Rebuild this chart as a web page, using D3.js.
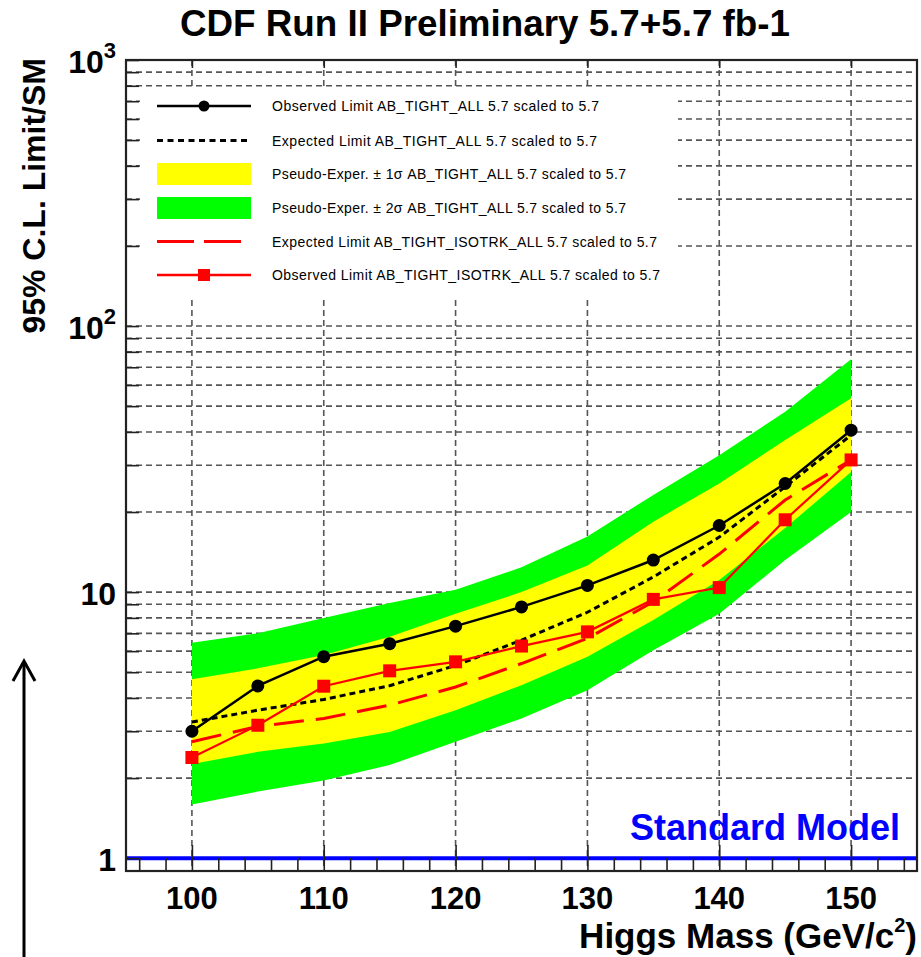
<!DOCTYPE html>
<html lang="en">
<head>
<meta charset="UTF-8">
<title>CDF Run II Preliminary 5.7+5.7 fb-1</title>
<script src="https://cdnjs.cloudflare.com/ajax/libs/d3/7.8.5/d3.min.js"></script>
<style>
  body { margin: 0; background: #fff; }
  text { font-family: "Liberation Sans", Arial, Helvetica, sans-serif; }
</style>
</head>
<body>
<div id="chart"></div>
<script>
// higgs mass points (GeV/c^2)
const mass = [100, 105, 110, 115, 120, 125, 130, 135, 140, 145, 150];
// AB_TIGHT_ALL
const obsAll = [3.0, 4.44, 5.72, 6.40, 7.45, 8.8, 10.6, 13.2, 17.8, 25.6, 40.6];
const expAll = [3.25, 3.6, 3.95, 4.45, 5.3, 6.6, 8.4, 11.4, 16.1, 24.9, 38.9];
const sig1Lo = [2.26, 2.51, 2.70, 2.98, 3.60, 4.47, 5.71, 7.85, 11.1, 17.4, 28.3];
const sig1Hi = [4.70, 5.17, 5.80, 6.8, 8.3, 10.0, 12.6, 18.4, 25.6, 37.3, 53.5];
const sig2Lo = [1.59, 1.78, 1.96, 2.24, 2.74, 3.35, 4.28, 6.05, 8.3, 13.2, 20.0];
const sig2Hi = [6.45, 7.0, 8.0, 9.1, 10.2, 12.4, 16.2, 23.2, 32.7, 47.6, 75.0];
// AB_TIGHT_ISOTRK_ALL
const expIso = [2.74, 3.13, 3.35, 3.76, 4.40, 5.39, 6.70, 9.2, 13.9, 22.2, 31.4];
const obsIso = [2.39, 3.16, 4.43, 5.06, 5.47, 6.27, 7.09, 9.39, 10.4, 18.7, 31.4];

const xMajor = [100, 110, 120, 130, 140, 150];
const xMinor = d3.range(96, 155, 2);
const yMajor = [1, 10, 100, 1000];
const yMinor = [2, 3, 4, 5, 6, 7, 8, 9, 20, 30, 40, 50, 60, 70, 80, 90, 200, 300, 400, 500, 600, 700, 800, 900];

const legendLabels = [
  "Observed Limit AB_TIGHT_ALL 5.7 scaled to 5.7",
  "Expected Limit AB_TIGHT_ALL 5.7 scaled to 5.7",
  "Pseudo-Exper. \u00b1 1\u03c3 AB_TIGHT_ALL 5.7 scaled to 5.7",
  "Pseudo-Exper. \u00b1 2\u03c3 AB_TIGHT_ALL 5.7 scaled to 5.7",
  "Expected Limit AB_TIGHT_ISOTRK_ALL 5.7 scaled to 5.7",
  "Observed Limit AB_TIGHT_ISOTRK_ALL 5.7 scaled to 5.7"
];

const W = 921, H = 957;
const L = 126, R = 917, T = 60, B = 871;

const svg = d3.select("#chart").append("svg")
  .attr("width", W).attr("height", H);

const x = d3.scaleLinear().domain([95, 155]).range([L, R]);
const y = d3.scaleLog().domain([0.895, 1000]).range([B, T]);

const rows = mass.map((m, i) => ({
  m: m, obsAll: obsAll[i], expAll: expAll[i],
  s1lo: sig1Lo[i], s1hi: sig1Hi[i], s2lo: sig2Lo[i], s2hi: sig2Hi[i],
  expIso: expIso[i], obsIso: obsIso[i]
}));

// grid
const grid = svg.append("g")
  .attr("stroke", "#555").attr("stroke-width", 1.6).attr("stroke-dasharray", "6,4");
grid.selectAll("line.h").data(yMinor.concat([10, 100])).enter().append("line")
  .attr("x1", L).attr("x2", R)
  .attr("y1", d => y(d)).attr("y2", d => y(d));
grid.selectAll("line.v").data(xMajor).enter().append("line")
  .attr("x1", d => x(d)).attr("x2", d => x(d))
  .attr("y1", T).attr("y2", B);

// legend box hides the grid behind it
svg.append("rect").attr("x", 140).attr("y", 89).attr("width", 538).attr("height", 211)
  .attr("fill", "#fff");

// bands
const band = (lo, hi) => d3.area().x(d => x(d.m)).y0(d => y(d[lo])).y1(d => y(d[hi]));
svg.append("path").datum(rows).attr("d", band("s2lo", "s2hi")).attr("fill", "#00ff00");
svg.append("path").datum(rows).attr("d", band("s1lo", "s1hi")).attr("fill", "#ffff00");

const line = key => d3.line().x(d => x(d.m)).y(d => y(d[key]));

svg.append("path").datum(rows).attr("d", line("expIso"))
  .attr("fill", "none").attr("stroke", "#ff0000").attr("stroke-width", 3)
  .attr("stroke-dasharray", "30,12");
svg.append("path").datum(rows).attr("d", line("expAll"))
  .attr("fill", "none").attr("stroke", "#000").attr("stroke-width", 3)
  .attr("stroke-dasharray", "6,4");
svg.append("path").datum(rows).attr("d", line("obsAll"))
  .attr("fill", "none").attr("stroke", "#000").attr("stroke-width", 2.5);
svg.selectAll("circle.obs").data(rows).enter().append("circle")
  .attr("cx", d => x(d.m)).attr("cy", d => y(d.obsAll)).attr("r", 6.5).attr("fill", "#000");
svg.append("path").datum(rows).attr("d", line("obsIso"))
  .attr("fill", "none").attr("stroke", "#ff0000").attr("stroke-width", 2.2);
svg.selectAll("rect.iso").data(rows).enter().append("rect")
  .attr("x", d => x(d.m) - 6.5).attr("y", d => y(d.obsIso) - 6.5)
  .attr("width", 13).attr("height", 13).attr("fill", "#ff0000");

// standard model line
svg.append("line").attr("x1", L).attr("x2", R).attr("y1", y(1)).attr("y2", y(1))
  .attr("stroke", "#0000ff").attr("stroke-width", 4);
svg.append("text").attr("x", 900).attr("y", 840).attr("text-anchor", "end")
  .attr("font-size", 36).attr("font-weight", "bold").attr("fill", "#0000ff")
  .text("Standard Model");

// axes, ticks point inward
const xAx = svg.append("g").attr("transform", `translate(0,${B})`)
  .call(d3.axisBottom(x).tickValues(xMajor).tickSize(-26).tickFormat(""));
const xAxMin = svg.append("g").attr("transform", `translate(0,${B})`)
  .call(d3.axisBottom(x).tickValues(xMinor.filter(v => xMajor.indexOf(v) < 0)).tickSize(-13).tickFormat(""));
const xTop = svg.append("g").attr("transform", `translate(0,${T})`)
  .call(d3.axisTop(x).tickValues(xMajor).tickSize(-8).tickFormat(""));
const yAx = svg.append("g").attr("transform", `translate(${L},0)`)
  .call(d3.axisLeft(y).tickValues(yMajor.concat(yMinor)).tickSize(-13).tickFormat(""));
[xAx, xAxMin, xTop, yAx].forEach(g => {
  g.select(".domain").remove();
  g.selectAll("line").attr("stroke", "#222").attr("stroke-width", 1.6);
});

svg.append("rect").attr("x", L).attr("y", T).attr("width", R - L).attr("height", B - T)
  .attr("fill", "none").attr("stroke", "#222").attr("stroke-width", 2.2);

// tick labels
svg.selectAll("text.xt").data(xMajor).enter().append("text")
  .attr("x", d => x(d)).attr("y", 909).attr("text-anchor", "middle")
  .attr("font-size", 31).attr("font-weight", "bold").text(d => d);

const yt = svg.selectAll("text.yt").data(yMajor).enter().append("text")
  .attr("x", 116).attr("y", d => y(d) + 13).attr("text-anchor", "end")
  .attr("font-size", 32).attr("font-weight", "bold");
yt.append("tspan").text(d => d === 1 ? "1" : "10");
yt.filter(d => d >= 100).append("tspan")
  .attr("font-size", 22).attr("dy", -15).text(d => Math.round(Math.log10(d)));

// titles
svg.append("text").attr("x", 485).attr("y", 36).attr("text-anchor", "middle")
  .attr("font-size", 36).attr("font-weight", "bold")
  .attr("textLength", 610).attr("lengthAdjust", "spacingAndGlyphs")
  .text("CDF Run II Preliminary 5.7+5.7 fb-1");

svg.append("text").attr("transform", "translate(45,58) rotate(-90)")
  .attr("text-anchor", "end").attr("font-size", 32).attr("font-weight", "bold")
  .text("95% C.L. Limit/SM");

const xt = svg.append("text").attr("x", 917).attr("y", 948).attr("text-anchor", "end")
  .attr("font-size", 35).attr("font-weight", "bold");
xt.append("tspan").text("Higgs Mass (GeV/c");
xt.append("tspan").attr("font-size", 20).attr("dy", -16).text("2");
xt.append("tspan").attr("dy", 16).text(")");

// legend
const legY = [106, 140.5, 174, 208, 241.5, 275];
const legW = [327, 325, 354, 354, 385, 388];
const leg = svg.append("g");
leg.append("line").attr("x1", 157).attr("x2", 251).attr("y1", legY[0]).attr("y2", legY[0])
  .attr("stroke", "#000").attr("stroke-width", 2.5);
leg.append("circle").attr("cx", 204).attr("cy", legY[0]).attr("r", 5.5).attr("fill", "#000");
leg.append("line").attr("x1", 157).attr("x2", 251).attr("y1", legY[1]).attr("y2", legY[1])
  .attr("stroke", "#000").attr("stroke-width", 3).attr("stroke-dasharray", "6,4.5");
leg.append("rect").attr("x", 157).attr("y", legY[2] - 11).attr("width", 94).attr("height", 22)
  .attr("fill", "#ffff00");
leg.append("rect").attr("x", 157).attr("y", legY[3] - 11).attr("width", 94).attr("height", 22)
  .attr("fill", "#00ff00");
leg.append("line").attr("x1", 157).attr("x2", 251).attr("y1", legY[4]).attr("y2", legY[4])
  .attr("stroke", "#ff0000").attr("stroke-width", 3).attr("stroke-dasharray", "37,10");
leg.append("line").attr("x1", 157).attr("x2", 251).attr("y1", legY[5]).attr("y2", legY[5])
  .attr("stroke", "#ff0000").attr("stroke-width", 2.5);
leg.append("rect").attr("x", 198).attr("y", legY[5] - 6).attr("width", 12).attr("height", 12)
  .attr("fill", "#ff0000");
leg.selectAll("text").data(legendLabels).enter().append("text")
  .attr("x", 272).attr("y", (d, i) => legY[i]).attr("dy", "0.36em")
  .attr("font-size", 14).attr("textLength", (d, i) => legW[i]).attr("lengthAdjust", "spacing")
  .text(d => d);

// arrow on the left margin
svg.append("path").attr("d", "M24,957 L24,662").attr("stroke", "#000").attr("stroke-width", 3);
svg.append("path").attr("d", "M13,681 L24,661 L35,681").attr("fill", "none")
  .attr("stroke", "#000").attr("stroke-width", 3);
</script>
</body>
</html>
